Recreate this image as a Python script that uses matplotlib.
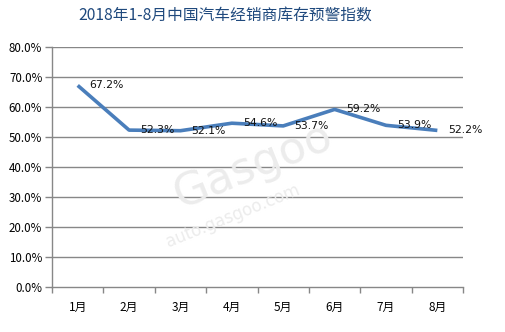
import matplotlib
matplotlib.use("Agg")
import matplotlib.pyplot as plt
import numpy as np
from matplotlib.ticker import FuncFormatter, FixedLocator

plt.rcParams['font.family'] = ['Noto Sans CJK SC', 'DejaVu Sans']

months = ['1月', '2月', '3月', '4月', '5月', '6月', '7月', '8月']
index_values = [67.2, 52.3, 52.1, 54.6, 53.7, 59.2, 53.9, 52.2]
y_ticks = [0, 10, 20, 30, 40, 50, 60, 70, 80]

title = '2018年1-8月中国汽车经销商库存预警指数'
line_color = '#4A7EBB'
grid_color = '#878787'

fig = plt.figure(figsize=(5.06, 3.32), dpi=100)
ax = fig.add_axes([0.1028, 0.1355, 0.8123, 0.7229])

x = np.arange(len(months))

# gridlines under the series
for y in y_ticks[1:]:
    ax.axhline(y, color=grid_color, lw=1.0, zorder=1)

ax.plot(x, index_values, color=line_color, lw=2.6, zorder=3,
        solid_joinstyle='round', solid_capstyle='butt')

for xi, v in zip(x, index_values):
    ax.annotate('%.1f%%' % v, (xi, v), xytext=(8, 0), textcoords='offset points',
                ha='left', va='center', fontsize=7.8, color='#111111',
                family='DejaVu Sans', zorder=4)

# faint site watermark
fig.text(0.50, 0.50, 'Gasgoo', fontsize=32, color='#ececec', rotation=22,
         ha='center', va='center', family='DejaVu Sans', zorder=0)
fig.text(0.46, 0.35, 'auto.gasgoo.com', fontsize=12, color='#ececec', rotation=22,
         ha='center', va='center', family='DejaVu Sans', zorder=0)

ax.set_xlim(-0.5, len(months) - 0.5)
ax.set_ylim(0, 80)

ax.set_yticks(y_ticks)
ax.yaxis.set_major_formatter(FuncFormatter(lambda v, p: '%.1f%%' % v))
ax.tick_params(axis='y', length=5, width=1, color=grid_color, labelsize=8.3, pad=2)

ax.set_xticks(x)
ax.set_xticklabels(months)
ax.tick_params(axis='x', which='major', length=0, labelsize=8.5, pad=10)
ax.xaxis.set_minor_locator(FixedLocator(np.arange(-0.5, len(months), 1.0)))
ax.tick_params(axis='x', which='minor', length=4, width=1, color=grid_color)

for s in ['top', 'right']:
    ax.spines[s].set_visible(False)
for s in ['left', 'bottom']:
    ax.spines[s].set_color(grid_color)
    ax.spines[s].set_linewidth(1.0)
ax.patch.set_alpha(0)

fig.text(0.446, 0.955, title, fontsize=11.3, color='#1F497D', ha='center', va='center')

plt.savefig('out.png', dpi=100)
